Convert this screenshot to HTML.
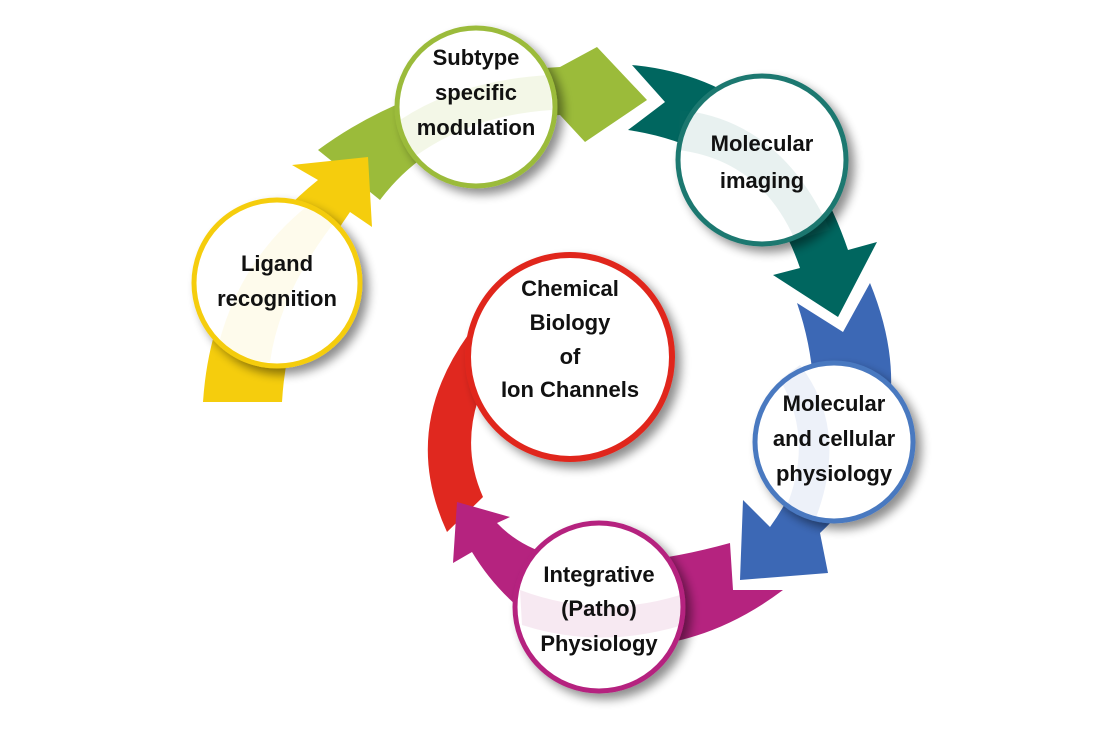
<!DOCTYPE html>
<html><head><meta charset="utf-8"><style>
html,body{margin:0;padding:0;background:#fff;}
svg{display:block;}
text{font-family:"Liberation Sans",sans-serif;font-weight:bold;font-size:22px;fill:#111;text-anchor:middle;}
</style></head><body>
<svg width="1107" height="737" viewBox="0 0 1107 737" xmlns="http://www.w3.org/2000/svg">
<defs>
<filter id="sh" x="-30%" y="-30%" width="160%" height="160%">
<feGaussianBlur in="SourceAlpha" stdDeviation="5"/>
<feOffset dx="6" dy="6"/>
<feComponentTransfer><feFuncA type="linear" slope="0.45"/></feComponentTransfer>
<feMerge><feMergeNode/><feMergeNode in="SourceGraphic"/></feMerge>
</filter>
</defs>
<!-- arrows -->
<path d="M447,532 Q400,430 468,335 L500,330 L478,400 Q462,450 483,497 Z" fill="#e0281f"/>
<path d="M730,543 L733,590 L783,590 Q690,660 580,645 Q510,615 472,552 L453,563 L457,502 L510,517 L497,523 Q560,590 730,543 Z" fill="#b5237f"/>
<path d="M797,303 L843,332 L870,283 Q930,430 820,533 L828,573 L740,580 L743,500 L770,527 Q840,430 797,303 Z" fill="#3c68b5"/>
<path d="M632,65 Q790,80 848,250 L877,242 L838,317 L773,275 L800,268 Q760,150 628,130 L665,102 Z" fill="#00665f"/>
<path d="M318,150 Q420,75 560,67 L597,47 L647,100 L585,142 L560,115 Q440,120 380,200 Z" fill="#9bbb3a"/>
<path d="M203,402 Q212,265 318,180 L292,165 L368,157 L372,227 L350,212 Q288,300 282,402 Z" fill="#f5cd0d"/>
<!-- circles -->
<g filter="url(#sh)">
<circle cx="277" cy="283" r="83" fill="#fff" stroke="#f5cd0d" stroke-width="5"/>
<circle cx="476" cy="107" r="79" fill="#fff" stroke="#9bbb3a" stroke-width="5"/>
<circle cx="762" cy="160" r="84" fill="#fff" stroke="#1e7870" stroke-width="5"/>
<circle cx="834" cy="442" r="79" fill="#fff" stroke="#4a79c0" stroke-width="5"/>
<circle cx="599" cy="607" r="84" fill="#fff" stroke="#b5237f" stroke-width="5"/>
<circle cx="570" cy="357" r="102" fill="#fff" stroke="#e0281f" stroke-width="6"/>
</g>
<!-- faint bands inside circles -->
<path d="M215,360 Q235,260 315,200 L340,215 Q280,290 270,362 Z" fill="#f5cd0d" opacity="0.08"/>
<path d="M400,120 Q460,80 550,75 L552,110 Q470,115 410,160 Z" fill="#9bbb3a" opacity="0.12"/>
<path d="M680,110 Q780,120 830,230 L795,240 Q760,160 678,150 Z" fill="#1e7870" opacity="0.1"/>
<path d="M800,365 Q850,430 815,520 L785,510 Q815,440 780,380 Z" fill="#4a79c0" opacity="0.1"/>
<path d="M520,590 Q600,620 680,595 L683,625 Q600,650 522,625 Z" fill="#b5237f" opacity="0.1"/>
<!-- labels -->
<text x="277" y="271">Ligand</text>
<text x="277" y="306">recognition</text>
<text x="476" y="65">Subtype</text>
<text x="476" y="100">specific</text>
<text x="476" y="135">modulation</text>
<text x="762" y="151">Molecular</text>
<text x="762" y="188">imaging</text>
<text x="570" y="296">Chemical</text>
<text x="570" y="330">Biology</text>
<text x="570" y="364">of</text>
<text x="570" y="397">Ion Channels</text>
<text x="834" y="411">Molecular</text>
<text x="834" y="446">and cellular</text>
<text x="834" y="481">physiology</text>
<text x="599" y="582">Integrative</text>
<text x="599" y="616">(Patho)</text>
<text x="599" y="651">Physiology</text>
</svg>
</body></html>
